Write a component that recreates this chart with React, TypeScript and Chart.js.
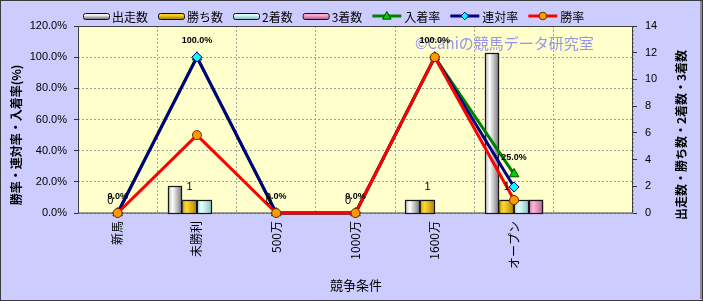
import { useEffect, useRef } from "react";
import { Chart, registerables } from "chart.js";

Chart.register(...registerables);

// Race classes (the last slot is an empty spacer column)
const categories = ["新馬", "未勝利", "500万", "1000万", "1600万", "オープン", ""];

// Counts (right axis)
const starts = [0, 2, 0, 0, 1, 12, null];
const wins = [0, 1, 0, 0, 1, 1, null];
const seconds = [0, 1, 0, 0, 0, 1, null];
const thirds = [0, 0, 0, 0, 0, 1, null];

// Rates in percent (left axis)
const placeRate = [0, 100, 0, 0, 100, 25, null];
const quinellaRate = [0, 100, 0, 0, 100, 16.7, null];
const winRate = [0, 50, 0, 0, 100, 8.3, null];

const JP = '"Noto Sans CJK JP", "Noto Sans", sans-serif';
const NUM = '"Liberation Sans", Arial, sans-serif';

type Stop = [number, string];
const tubeGray: Stop[] = [[0, "#b4b4b4"], [0.32, "#ffffff"], [1, "#767676"]];
const tubeGold: Stop[] = [[0, "#dcaa00"], [0.32, "#ffd633"], [1, "#a88200"]];
const tubeCyan: Stop[] = [[0, "#b0e4e4"], [0.32, "#e4ffff"], [1, "#86c0c0"]];
const tubePink: Stop[] = [[0, "#e088b8"], [0.32, "#ffb4da"], [1, "#b86090"]];

function drawMarker(ctx: CanvasRenderingContext2D, style: string, x: number, y: number, r: number) {
  ctx.beginPath();
  if (style === "triangle") {
    ctx.moveTo(x, y - r);
    ctx.lineTo(x + r * 0.95, y + r * 0.7);
    ctx.lineTo(x - r * 0.95, y + r * 0.7);
    ctx.closePath();
  } else if (style === "rectRot") {
    ctx.moveTo(x, y - r);
    ctx.lineTo(x + r, y);
    ctx.lineTo(x, y + r);
    ctx.lineTo(x - r, y);
    ctx.closePath();
  } else {
    ctx.arc(x, y, r, 0, Math.PI * 2);
  }
  ctx.fill();
  ctx.stroke();
}

// Backgrounds of the chart and plot area
const backdrop = {
  id: "backdrop",
  beforeDraw(chart: any) {
    const { ctx, width, height, chartArea: a } = chart;
    ctx.save();
    ctx.fillStyle = "#ccccff";
    ctx.fillRect(0, 0, width, height);
    ctx.fillStyle = "#ffffcc";
    ctx.fillRect(a.left, a.top, a.right - a.left, a.bottom - a.top);
    ctx.restore();
  },
  afterDraw(chart: any) {
    const { ctx, width, height } = chart;
    ctx.save();
    ctx.strokeStyle = "#3a3a3a";
    ctx.lineWidth = 1;
    ctx.strokeRect(0.5, 0.5, width - 1, height - 1);
    ctx.strokeStyle = "#8a8a9a";
    ctx.strokeRect(width - 2.5, 1.5, 1, height - 4);
    ctx.restore();
  },
};

// Plot frame and the watermark, under the data
const frame = {
  id: "frame",
  beforeDatasetsDraw(chart: any) {
    const { ctx, chartArea: a } = chart;
    ctx.save();
    ctx.strokeStyle = "#404040";
    ctx.lineWidth = 1;
    ctx.strokeRect(Math.round(a.left) + 0.5, Math.round(a.top) + 0.5, Math.round(a.right - a.left) - 1, Math.round(a.bottom - a.top) - 0.5);
    ctx.font = `15px ${JP}`;
    ctx.fillStyle = "rgba(130,130,245,0.85)";
    ctx.textBaseline = "middle";
    ctx.textAlign = "left";
    ctx.fillText("©Caniの競馬データ研究室", a.left + 337, a.top + 17);
    ctx.restore();
  },
};

// Shaded cylinder look for the bars
const tubes = {
  id: "tubes",
  afterDatasetDraw(chart: any, args: any) {
    const ds = chart.data.datasets[args.index];
    if (!ds.tube) return;
    const ctx = chart.ctx;
    ctx.save();
    for (const el of args.meta.data) {
      const p = el.getProps(["x", "y", "base", "width"], true);
      if (p.y == null || isNaN(p.y)) continue;
      const top = Math.round(p.y);
      const bottom = Math.round(p.base);
      if (bottom - top < 1) continue;
      const l = Math.round(p.x - p.width / 2);
      const r = Math.round(p.x + p.width / 2);
      const g = ctx.createLinearGradient(l, 0, r, 0);
      ds.tube.forEach(([o, c]: Stop) => g.addColorStop(o, c));
      ctx.fillStyle = g;
      ctx.fillRect(l, top, r - l, bottom - top);
      ctx.strokeStyle = "#161616";
      ctx.lineWidth = 1.2;
      ctx.strokeRect(l + 0.5, top + 0.5, r - l - 1, bottom - top);
    }
    ctx.restore();
  },
};

// Value labels: win counts and place rate
const valueLabels = {
  id: "valueLabels",
  afterDatasetsDraw(chart: any) {
    const ctx = chart.ctx;
    ctx.save();
    ctx.textAlign = "center";
    ctx.textBaseline = "middle";
    ctx.fillStyle = "#000";
    chart.data.datasets.forEach((ds: any, i: number) => {
      if (!ds.showValues) return;
      const meta = chart.getDatasetMeta(i);
      meta.data.forEach((el: any, j: number) => {
        const v = ds.data[j];
        if (v == null) return;
        if (ds.showValues === "pct") {
          ctx.font = `bold 9px ${NUM}`;
          ctx.fillText(`${v.toFixed(1)}%`, el.x, el.y - 16.5);
        } else {
          ctx.font = `11px ${NUM}`;
          ctx.fillText(String(v), el.x, el.y - 12.5);
        }
      });
    });
    ctx.restore();
  },
};

// Legend row and axis titles
const legendAndTitles = {
  id: "legendAndTitles",
  afterDraw(chart: any) {
    const ctx = chart.ctx;
    ctx.save();
    ctx.font = `12px ${JP}`;
    ctx.textBaseline = "middle";
    ctx.textAlign = "left";
    const cy = 16;
    let x = 83;
    chart.data.datasets.forEach((ds: any) => {
      if (ds.type === "bar") {
        const w = 26, h = 6;
        const g = ctx.createLinearGradient(0, cy - h / 2, 0, cy + h / 2);
        ds.tube.forEach(([o, c]: Stop) => g.addColorStop(o, c));
        ctx.fillStyle = g;
        ctx.strokeStyle = "#111";
        ctx.lineWidth = 1;
        ctx.beginPath();
        ctx.roundRect(x + 0.5, cy - h / 2 + 0.5, w, h, 2);
        ctx.fill();
        ctx.stroke();
        x += w;
      } else {
        const w = 29;
        ctx.strokeStyle = ds.borderColor;
        ctx.lineWidth = 3;
        ctx.beginPath();
        ctx.moveTo(x, cy);
        ctx.lineTo(x + w, cy);
        ctx.stroke();
        ctx.fillStyle = ds.pointBackgroundColor;
        ctx.strokeStyle = ds.pointBorderColor;
        ctx.lineWidth = 1;
        drawMarker(ctx, ds.pointStyle, x + w / 2, cy, ds.pointStyle === "triangle" ? 4.5 : 3.8);
        x += w;
      }
      x += 3;
      ctx.fillStyle = "#000";
      ctx.fillText(ds.label, x, cy + 1);
      x += ctx.measureText(ds.label).width + 10;
    });

    ctx.fillStyle = "#000";
    ctx.textAlign = "center";
    ctx.font = `bold 12px ${JP}`;
    ctx.save();
    ctx.translate(16, 135);
    ctx.rotate(-Math.PI / 2);
    ctx.fillText("勝率・連対率・入着率(%)", 0, 0);
    ctx.restore();
    ctx.save();
    ctx.translate(681, 135);
    ctx.rotate(-Math.PI / 2);
    ctx.fillText("出走数・勝ち数・2着数・3着数", 0, 0);
    ctx.restore();
    ctx.font = `13px ${JP}`;
    ctx.fillText("競争条件", 356, 285);
    ctx.restore();
  },
};

export default function App() {
  const ref = useRef<HTMLCanvasElement | null>(null);

  useEffect(() => {
    if (!ref.current) return;
    const bar = (label: string, data: (number | null)[], color: string, tube: Stop[], order: number, extra: any = {}) => ({
      type: "bar" as const,
      label,
      data,
      yAxisID: "y1",
      backgroundColor: color,
      borderWidth: 0,
      categoryPercentage: 0.74,
      barPercentage: 1,
      order,
      tube,
      ...extra,
    });
    const line = (label: string, data: (number | null)[], color: string, pointStyle: string, fill: string, edge: string, radius: number, order: number, extra: any = {}) => ({
      type: "line" as const,
      label,
      data,
      yAxisID: "y",
      borderColor: color,
      borderWidth: 3,
      pointStyle,
      pointRadius: radius,
      pointBackgroundColor: fill,
      pointBorderColor: edge,
      pointBorderWidth: 1,
      tension: 0,
      clip: false,
      order,
      ...extra,
    });

    const chart = new Chart(ref.current, {
      data: {
        labels: categories,
        datasets: [
          bar("出走数", starts, "#e0e0e0", tubeGray, 3),
          bar("勝ち数", wins, "#ffcc00", tubeGold, 4, { showValues: "count" }),
          bar("2着数", seconds, "#ccffff", tubeCyan, 5),
          bar("3着数", thirds, "#ff99cc", tubePink, 6),
          line("入着率", placeRate, "#008000", "triangle", "#00d000", "#004a00", 5.5, 2, { showValues: "pct" }),
          line("連対率", quinellaRate, "#000080", "rectRot", "#00ffff", "#000080", 5, 1),
          line("勝率", winRate, "#ff0000", "circle", "#ff9900", "#6a3000", 4.5, 0),
        ] as any,
      },
      options: {
        animation: false,
        responsive: false,
        devicePixelRatio: 1,
        layout: { padding: { top: 26, left: 0, right: 0, bottom: 0 } },
        plugins: { legend: { display: false }, tooltip: { enabled: false }, title: { display: false } },
        scales: {
          x: {
            offset: true,
            grid: { offset: true, drawTicks: false, color: "#a0a0a0", lineWidth: 1 },
            border: { display: false, dash: [2, 2] },
            ticks: { autoSkip: false, minRotation: 90, maxRotation: 90, padding: 8, color: "#000", font: { family: JP, size: 12 } },
            afterFit: (s: any) => { s.height = 88; },
          },
          y: {
            position: "left",
            min: 0,
            max: 120,
            grid: { color: "#a0a0a0", lineWidth: 1, tickLength: 4, tickColor: "#303030", tickBorderDash: [] },
            border: { display: false, dash: [2, 2] },
            ticks: { stepSize: 20, padding: 7, color: "#000", font: { family: NUM, size: 11 }, callback: (v: any) => `${Number(v).toFixed(1)}%` },
            afterFit: (s: any) => { s.width = 78; },
          },
          y1: {
            position: "right",
            min: 0,
            max: 14,
            grid: { drawOnChartArea: false, tickLength: 4, tickColor: "#303030" },
            border: { display: false },
            ticks: { stepSize: 2, padding: 8, color: "#000", font: { family: NUM, size: 11 } },
            afterFit: (s: any) => { s.width = 70; },
          },
        },
      } as any,
      plugins: [backdrop, frame, tubes, valueLabels, legendAndTitles],
    });
    return () => chart.destroy();
  }, []);

  return (
    <div style={{ position: "fixed", left: 0, top: 0, width: 703, height: 301 }}>
      <canvas ref={ref} width={703} height={301} style={{ display: "block", width: 703, height: 301 }} />
    </div>
  );
}
